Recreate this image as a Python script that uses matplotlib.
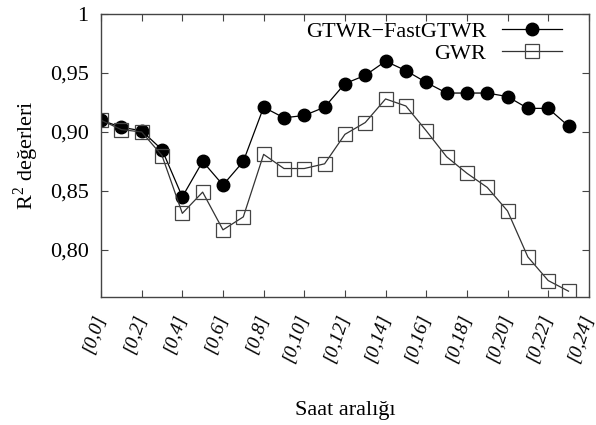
import matplotlib.pyplot as plt
import numpy as np

plt.rcParams['font.family'] = ['Liberation Serif', 'DejaVu Serif']
plt.rcParams['mathtext.fontset'] = 'custom'
plt.rcParams['mathtext.rm'] = 'Liberation Serif'

# saat aralıkları (0..23) ve R^2 değerleri
hours = np.arange(24)
tick_pos = np.arange(0, 25, 2)
tick_labels = ['[0,%d]' % h for h in tick_pos]

gtwr = [0.910, 0.904, 0.901, 0.885, 0.845, 0.875, 0.855, 0.875,
        0.921, 0.912, 0.914, 0.921, 0.941, 0.948, 0.960, 0.952,
        0.942, 0.933, 0.933, 0.933, 0.930, 0.920, 0.920, 0.905]
gwr = [0.910, 0.902, 0.900, 0.880, 0.831, 0.849, 0.817, 0.828,
       0.881, 0.869, 0.869, 0.873, 0.898, 0.908, 0.928, 0.922,
       0.901, 0.879, 0.865, 0.853, 0.833, 0.794, 0.774, 0.765]

fs = 16

fig = plt.figure(figsize=(5.96, 4.25), dpi=100)
ax = fig.add_axes([0.1695, 0.301, 0.8185, 0.666])

ax.plot(hours, gtwr, color='black', lw=0.9, marker='o', ms=9,
        mfc='black', mec='black', label='GTWR\u2212FastGTWR')
ax.plot(hours, gwr, color='#333333', lw=0.9, marker='s', ms=9.5,
        mfc='none', mec='#444444', mew=0.9, label='GWR')

ax.set_xlim(0, 24)
ax.set_ylim(0.76, 1.0)
ax.set_yticks([0.80, 0.85, 0.90, 0.95, 1.0])
ax.set_yticklabels(['0,80', '0,85', '0,90', '0,95', '1'], fontsize=fs)
ax.set_xticks(tick_pos)
ax.set_xticklabels(tick_labels, fontsize=14, style='italic', rotation=72,
                   ha='right', va='center', rotation_mode='anchor')
ax.tick_params(axis='both', direction='in', top=True, right=True,
               length=5, width=0.8, color='#444444')
ax.tick_params(axis='x', pad=13)
ax.tick_params(axis='y', pad=9)
for s in ax.spines.values():
    s.set_color('#444444')
    s.set_linewidth(1.0)

ax.set_ylabel('R$^2$ değerleri', fontsize=fs, labelpad=6)
ax.set_xlabel('Saat aralığı', fontsize=fs, va='center')
ax.xaxis.set_label_coords(0.5, -0.399)

ax.legend(loc='upper right', bbox_to_anchor=(0.945, 0.975), frameon=False,
          markerfirst=False, fontsize=fs, handlelength=2.7,
          borderaxespad=0.0, borderpad=0.0, labelspacing=0.08,
          handletextpad=0.7)

fig.savefig('out.png', dpi=100)
